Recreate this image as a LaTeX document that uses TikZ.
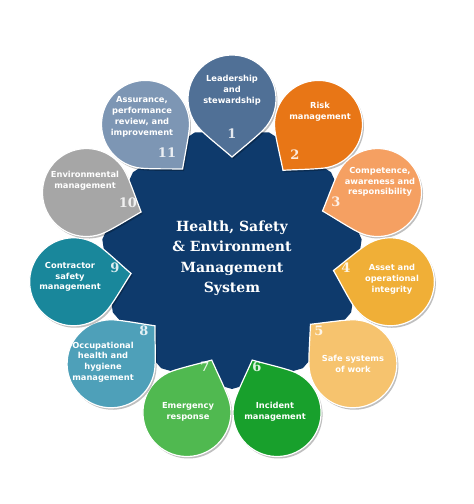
\documentclass[tikz,border=0pt]{standalone}
\usepackage{fontspec}
\setmainfont{DejaVu Serif}
\setsansfont{DejaVu Sans}
\usepackage{xcolor}
\usetikzlibrary{shapes.geometric}

\definecolor{hseNavy}{RGB}{14,58,108}
\definecolor{hseA}{RGB}{80,112,150}
\definecolor{hseB}{RGB}{232,118,22}
\definecolor{hseC}{RGB}{245,160,98}
\definecolor{hseD}{RGB}{240,175,55}
\definecolor{hseE}{RGB}{246,195,110}
\definecolor{hseF}{RGB}{24,160,44}
\definecolor{hseG}{RGB}{80,185,80}
\definecolor{hseH}{RGB}{78,160,185}
\definecolor{hseI}{RGB}{25,135,155}
\definecolor{hseJ}{RGB}{166,166,166}
\definecolor{hseK}{RGB}{125,150,180}

\begin{document}
\begin{tikzpicture}[x=1pt,y=1pt,
    lbl/.style={text=white,font=\sffamily\bfseries\fontsize{8.3}{10.8}\selectfont,align=center,inner sep=0pt},
    num/.style={text=white,opacity=0.85,font=\rmfamily\bfseries\fontsize{13}{13}\selectfont,inner sep=0pt},
    petaledge/.style={draw=white,line width=1.2pt},
    petalshade/.style={fill=black,opacity=0.25}]
        \useasboundingbox (-232,-245) rectangle (242,259);

        \node[regular polygon,regular polygon sides=11,shape border rotate=180,minimum size=262,
              inner sep=0pt,fill=hseNavy,text=white,align=center,
              font=\rmfamily\bfseries\fontsize{14}{20.5}\selectfont] (hub) at (0,1)
              {Health, Safety\\ \& Environment\\ Management\\ System};

        \foreach \i/\tilt/\col in {11/7/hseK,1/0/hseA,2/-5/hseB,3/-6/hseC,4/-3/hseD,5/-2/hseE,
                                   6/9/hseF,7/-9/hseG,8/0/hseH,9/0/hseI,10/5/hseJ} {
            \pgfmathsetmacro\ang{90-(\i-1)*360/11}
            \begin{scope}[shift={(\ang:160)},shift={(1.5,-2)},rotate=\ang+\tilt]
                \fill[petalshade] (-58,0) .. controls (-49,10.4) and (-38.2,24) .. (135:44)
                    arc[start angle=135,end angle=-135,radius=44]
                    .. controls (-38.2,-24) and (-49,-10.4) .. (-58,0) -- cycle;
            \end{scope}
            \begin{scope}[shift={(\ang:160)},rotate=\ang+\tilt]
                \filldraw[petaledge,fill=\col] (-58,0) .. controls (-49,10.4) and (-38.2,24) .. (135:44)
                    arc[start angle=135,end angle=-135,radius=44]
                    .. controls (-38.2,-24) and (-49,-10.4) .. (-58,0) -- cycle;
            \end{scope}
        }

        \node[lbl] (l1)  at (0,169)     {Leadership\\and\\stewardship};
        \node[lbl] (l2)  at (88,147)    {Risk\\management};
        \node[lbl] (l3)  at (148,77)    {Competence,\\awareness and\\responsibility};
        \node[lbl] (l4)  at (160,-20)   {Asset and\\operational\\integrity};
        \node[lbl] (l5)  at (121,-105)  {Safe systems\\of work};
        \node[lbl] (l6)  at (43,-153)   {Incident\\management};
        \node[lbl] (l7)  at (-44,-153)  {Emergency\\response};
        \node[lbl] (l8)  at (-129,-103) {Occupational\\health and\\hygiene\\management};
        \node[lbl] (l9)  at (-162,-18)  {Contractor\\safety\\management};
        \node[lbl] (l10) at (-147,78)   {Environmental\\management};
        \node[lbl] (l11) at (-90,142)   {Assurance,\\performance\\review, and\\improvement};

        \node[num] (n1)  at (0,125)    {1};
        \node[num] (n2)  at (63,104)   {2};
        \node[num] (n3)  at (104,57)   {3};
        \node[num] (n4)  at (114,-9)   {4};
        \node[num] (n5)  at (87,-72)   {5};
        \node[num] (n6)  at (25,-108)  {6};
        \node[num] (n7)  at (-27,-108) {7};
        \node[num] (n8)  at (-88,-72)  {8};
        \node[num] (n9)  at (-117,-9)  {9};
        \node[num] (n10) at (-104,56)  {10};
        \node[num] (n11) at (-65,106)  {11};
    \end{tikzpicture}
\end{document}
